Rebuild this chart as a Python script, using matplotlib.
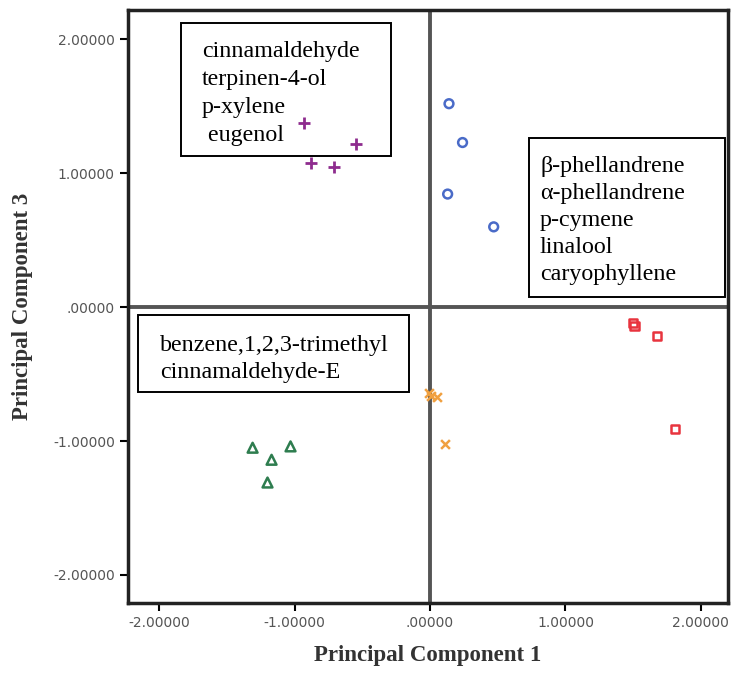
import matplotlib
matplotlib.use("Agg")
import matplotlib.pyplot as plt
from matplotlib.patches import Rectangle

# PCA scores (PC1, PC3)
plus_x = [-0.93, -0.55, -0.88, -0.71]
plus_y = [1.375, 1.22, 1.08, 1.05]

circ_x = [0.14, 0.24, 0.13, 0.47]
circ_y = [1.52, 1.23, 0.845, 0.60]

sq_x = [1.50, 1.51, 1.675, 1.81]
sq_y = [-0.12, -0.14, -0.217, -0.91]

cross_x = [-0.01, 0.01, 0.05, 0.11]
cross_y = [-0.64, -0.66, -0.67, -1.02]

tri_x = [-1.31, -1.03, -1.17, -1.20]
tri_y = [-1.05, -1.04, -1.14, -1.31]

ticks = [-2, -1, 0, 1, 2]
tick_labels = ["-2.00000", "-1.00000", ".00000", "1.00000", "2.00000"]

box1 = ["cinnamaldehyde", "terpinen-4-ol", "p-xylene", " eugenol"]
box2 = ["β-phellandrene", "α-phellandrene", "p-cymene", "linalool", "caryophyllene"]
box3 = ["benzene,1,2,3-trimethyl", "cinnamaldehyde-E"]

W, H = 734, 673
fig = plt.figure(figsize=(W / 100, H / 100), dpi=100)
ax = fig.add_axes([128 / W, 1 - 603 / H, 600 / W, 593 / H])

ax.axvline(0, color="#555555", lw=2.8, zorder=1)
ax.axhline(0, color="#555555", lw=2.8, zorder=1)

ax.scatter(plus_x, plus_y, marker="+", s=80, color="#8e2c8e", lw=2, zorder=4)
ax.scatter(circ_x, circ_y, marker="o", s=40, facecolors="none", edgecolors="#4a6bc8", lw=1.8, zorder=4)
ax.scatter(sq_x, sq_y, marker="s", s=36, facecolors="none", edgecolors="#e8343e", lw=1.8, zorder=4)
ax.scatter(cross_x, cross_y, marker="x", s=40, color="#f0a040", lw=1.8, zorder=4)
ax.scatter(tri_x, tri_y, marker="^", s=50, facecolors="none", edgecolors="#2e7d4f", lw=1.8, zorder=4)

ax.set_xlim(-2.23, 2.20)
ax.set_ylim(-2.21, 2.22)
ax.set_xticks(ticks)
ax.set_xticklabels(tick_labels)
ax.set_yticks(ticks)
ax.set_yticklabels(tick_labels)
ax.tick_params(direction="out", length=6, width=1.5, labelsize=10, labelcolor="#555555",
               color="black")
for s in ax.spines.values():
    s.set_linewidth(2.5)
    s.set_color("#222222")

ax.set_xlabel("Principal Component 1", family="Liberation Serif", fontweight="bold",
              fontsize=16.5, color="#333333", labelpad=11)
ax.set_ylabel("Principal Component 3", family="Liberation Serif", fontweight="bold",
              fontsize=16.5, color="#333333", labelpad=14)


def textbox(lines, x0, y0, x1, y1, tx, ty, pitch):
    # box edges and text positions in pixels from the top left
    ax.add_patch(Rectangle((x0 / W, 1 - y1 / H), (x1 - x0) / W, (y1 - y0) / H,
                           transform=fig.transFigure, fc="white", ec="black",
                           lw=1.4, zorder=2))
    for i, line in enumerate(lines):
        ax.text(tx / W, 1 - (ty + i * pitch) / H, line, transform=fig.transFigure,
                family="Liberation Serif", fontsize=17.3, color="black",
                ha="left", va="center_baseline", zorder=3)


textbox(box1, 181, 23, 391, 156, 202, 49, 28)
textbox(box2, 529, 138, 725, 297, 540, 164, 27)
textbox(box3, 138, 315, 409, 392, 160, 343, 27)

fig.savefig("out.png", dpi=100)
